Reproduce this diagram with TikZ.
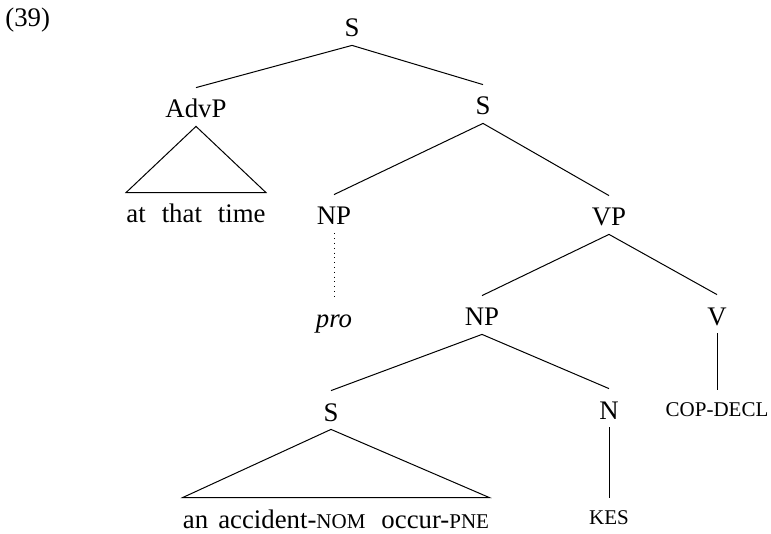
\documentclass[tikz,border=0pt]{standalone}
\usepackage{fontspec}
\setmainfont{Liberation Serif}
\usetikzlibrary{positioning}
\newcommand{\glsc}[1]{{\fontsize{10.5}{12}\selectfont #1}}
\tikzset{
  cat/.style={inner sep=0pt,anchor=base,text height=15pt,text depth=4pt,font=\fontsize{13.4}{15}\selectfont},
  leaf/.style={cat,text height=13pt},
  exnum/.style={inner sep=0pt,anchor=base west,font=\fontsize{13.4}{15}\selectfont},
  branch/.style={line width=.5pt,black},
  trace/.style={line width=.4pt,dotted,black}
}
\begin{document}
\begin{tikzpicture}[x=0.5pt,y=-0.5pt]
  \useasboundingbox (0,0) rectangle (771,534);
  \node[exnum] (ex) at (5,27) {(39)};
  % upper part
  \node[cat] (S0) at (352,37) {S};
  \node[cat] (AdvP) at (196,118) {AdvP};
  \node[cat] (S1) at (483,115) {S};
  \node[cat] (atime) at (196,223) {at\hspace{8pt}that\hspace{8pt}time};
  \node[cat] (NPa) at (334,225) {NP};
  \node[cat] (VP) at (609,226) {VP};
  \node[cat] (pro) at (334,328) {\textit{pro}};
  % lower part
  \node[cat] (NPb) at (482,326) {NP};
  \node[cat] (V) at (717,325) {V};
  \node[cat] (S2) at (331,421) {S};
  \node[cat] (N) at (609,419) {N};
  \node[leaf] (cop) at (717,416) {\glsc{COP-DECL}};
  \node[cat] (clause) at (336,528) {an\hspace{5pt}accident-\glsc{NOM}\hspace{8pt}occur-\glsc{PNE}};
  \node[leaf] (kes) at (609,524) {\glsc{KES}};
  \draw[branch] (S0.south) -- (AdvP.north);
  \draw[branch] (S0.south) -- (S1.north);
  \draw[branch] (AdvP.south) -- (atime.north west) -- (atime.north east) -- cycle;
  \draw[branch] (S1.south) -- (NPa.north);
  \draw[branch] (S1.south) -- (VP.north);
  \draw[trace] (NPa.south) -- (pro.north);
  \draw[branch] (VP.south) -- (NPb.north);
  \draw[branch] (VP.south) -- (V.north);
  \draw[branch] (NPb.south) -- (S2.north);
  \draw[branch] (NPb.south) -- (N.north);
  \draw[branch] (S2.south) -- (clause.north west) -- (clause.north east) -- cycle;
  \draw[branch] (N.south) -- (kes.north);
  \draw[branch] (V.south) -- (cop.north);
\end{tikzpicture}
\end{document}
